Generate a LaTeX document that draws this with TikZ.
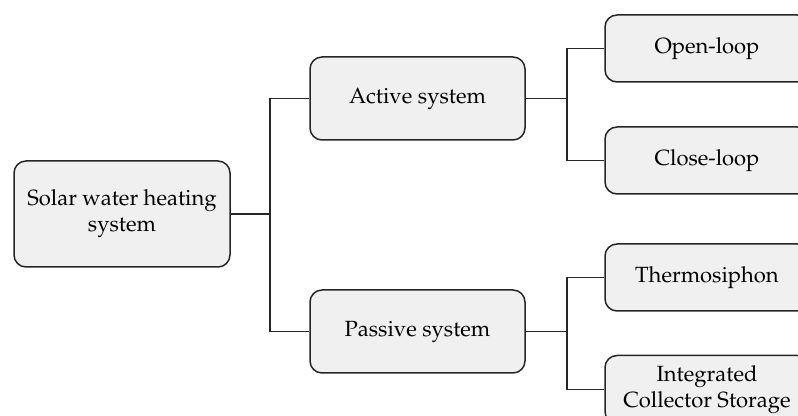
\documentclass[tikz,border=0pt]{standalone}
\usepackage[T1]{fontenc}
\usepackage{mathpazo}
\begin{document}
\begin{tikzpicture}[x=0.5pt,y=-0.5pt,
  box/.style={draw=black!85, line width=0.75pt, fill=black!6, rounded corners=6pt,
    align=center, inner sep=0pt, font=\fontsize{11}{13}\selectfont},
  conn/.style={draw=black!85, line width=0.7pt}]
\useasboundingbox (0,0) rectangle (798,416);
\node[box, minimum width=108pt, minimum height=53pt] (root) at (122,214) {Solar water heating\\system};
\node[box, minimum width=107.5pt, minimum height=41.5pt] (active) at (417.5,98.5) {Active system};
\node[box, minimum width=107.5pt, minimum height=41.5pt] (passive) at (417.5,331.5) {Passive system};
\node[box, minimum width=102pt, minimum height=33.5pt] (open) at (707,48.5) {Open-loop};
\node[box, minimum width=102pt, minimum height=33.5pt] (close) at (707,160.5) {Close-loop};
\node[box, minimum width=102pt, minimum height=33.5pt] (thermo) at (707,277.5) {Thermosiphon};
\node[box, minimum width=102pt, minimum height=34pt] (ics) at (707,389.5) {Integrated\\Collector Storage};
\coordinate (j1) at (270,0);
\coordinate (j2) at (567,0);
\draw[conn] (root.east) -- (root.east -| j1);
\draw[conn] (root.east -| j1) |- (active.west);
\draw[conn] (root.east -| j1) |- (passive.west);
\draw[conn] (active.east) -- (active.east -| j2);
\draw[conn] (active.east -| j2) |- (open.west);
\draw[conn] (active.east -| j2) |- (close.west);
\draw[conn] (passive.east) -- (passive.east -| j2);
\draw[conn] (passive.east -| j2) |- (thermo.west);
\draw[conn] (passive.east -| j2) |- (ics.west);
\end{tikzpicture}
\end{document}
